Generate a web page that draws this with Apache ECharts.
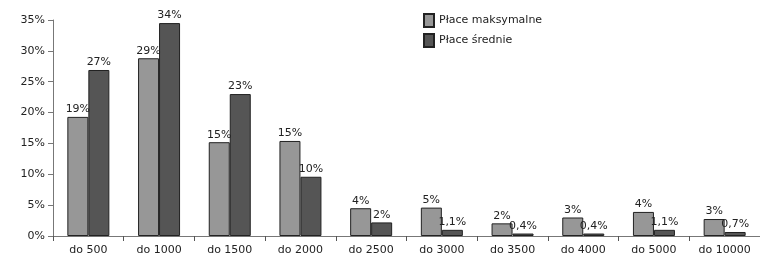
<!DOCTYPE html>
<html>
<head>
<meta charset="utf-8">
<script src="https://cdn.jsdelivr.net/npm/echarts@6/dist/echarts.min.js"></script>
<style>
  html, body { margin: 0; padding: 0; background: #fff; }
  #chart { width: 760px; height: 257px; }
</style>
</head>
<body>
<div id="chart"></div>
<script>
// dane
const categories = ['do 500', 'do 1000', 'do 1500', 'do 2000', 'do 2500', 'do 3000', 'do 3500', 'do 4000', 'do 5000', 'do 10000'];
const maxValues = [19.3, 28.8, 15.2, 15.4, 4.5, 4.6, 2.05, 3.0, 3.9, 2.75];
const avgValues = [26.9, 34.5, 23.0, 9.6, 2.2, 1.0, 0.4, 0.4, 1.0, 0.65];
const maxLabels = ['19%', '29%', '15%', '15%', '4%', '5%', '2%', '3%', '4%', '3%'];
const avgLabels = ['27%', '34%', '23%', '10%', '2%', '1,1%', '0,4%', '0,4%', '1,1%', '0,7%'];
const yTicks = [0, 5, 10, 15, 20, 25, 30, 35];

const chart = echarts.init(document.getElementById('chart'));
const font = 'DejaVu Sans';

const labelFor = (arr) => ({
  show: true,
  position: 'top',
  distance: 2,
  color: '#222',
  fontFamily: font,
  fontSize: 11,
  formatter: (p) => arr[p.dataIndex]
});

chart.setOption({
  animation: false,
  textStyle: { fontFamily: font },
  legend: {
    orient: 'vertical',
    left: 423,
    top: 13,
    padding: 0,
    icon: 'rect',
    itemWidth: 10,
    itemHeight: 13,
    itemGap: 5,
    textStyle: { fontFamily: font, fontSize: 11, color: '#222' },
    data: ['Płace maksymalne', 'Płace średnie']
  },
  grid: { left: 53, top: 20, width: 711, height: 216 },
  xAxis: {
    type: 'category',
    data: categories,
    axisLine: { lineStyle: { color: '#777' } },
    axisTick: { show: true, length: 5, lineStyle: { color: '#555' } },
    axisLabel: { color: '#222', fontFamily: font, fontSize: 11, margin: 9 }
  },
  yAxis: {
    type: 'value',
    min: yTicks[0],
    max: yTicks[yTicks.length - 1],
    interval: 5,
    splitLine: { show: false },
    axisLine: { show: true, lineStyle: { color: '#777' } },
    axisTick: { show: true, length: 5, lineStyle: { color: '#777' } },
    axisLabel: { color: '#222', fontFamily: font, fontSize: 11, margin: 8, formatter: '{value}%' }
  },
  series: [
    {
      name: 'Płace maksymalne',
      type: 'bar',
      data: maxValues,
      barWidth: 21,
      barGap: '0%',
      itemStyle: { color: '#979797', borderColor: '#222', borderWidth: 1 },
      label: labelFor(maxLabels)
    },
    {
      name: 'Płace średnie',
      type: 'bar',
      data: avgValues,
      barWidth: 21,
      barGap: '0%',
      itemStyle: { color: '#555555', borderColor: '#222', borderWidth: 1 },
      label: labelFor(avgLabels)
    }
  ]
});
</script>
</body>
</html>
